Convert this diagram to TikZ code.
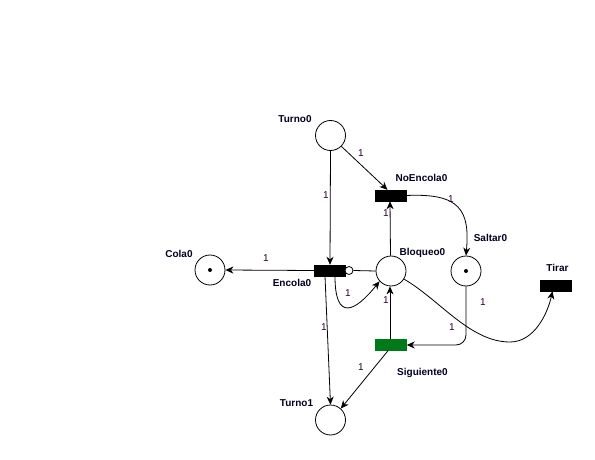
\documentclass[tikz,border=0pt]{standalone}
\usepackage{fontspec}
\setmainfont{Liberation Sans}
\usetikzlibrary{arrows.meta}
\definecolor{lblcol}{RGB}{40,0,45}
\definecolor{namecol}{RGB}{0,0,30}
\definecolor{trgreen}{RGB}{0,122,25}
\tikzset{
  place/.style={draw, circle, minimum size=30pt, inner sep=0pt, line width=0.8pt},
  trans/.style={draw, fill=black, minimum width=31pt, minimum height=11pt, inner sep=0pt},
  gtrans/.style={draw=trgreen, fill=trgreen, minimum width=31pt, minimum height=11pt, inner sep=0pt},
  tok/.style={fill=black, circle, minimum size=4pt, inner sep=0pt},
  pname/.style={font=\fontsize{10}{12}\selectfont\bfseries, text=namecol, inner sep=0pt},
  wlbl/.style={font=\fontsize{10}{12}\selectfont, text=lblcol, inner sep=0pt},
  arc/.style={line width=0.8pt, -{Stealth[length=8pt, width=7pt, inset=2.5pt]}},
  inh/.style={line width=0.8pt},
  inhc/.style={draw, fill=white, circle, minimum size=8pt, inner sep=0pt, line width=0.8pt}
}
\begin{document}
\begin{tikzpicture}[x=1pt, y=-1pt]
\path[use as bounding box, fill=white] (0,0) rectangle (595,460);

% places
\node[place] (Turno0) at (330.5,135.5) {};
\node[place] (Cola0) at (210,270) {};
\node[place] (Bloqueo0) at (391,271) {};
\node[place] (Saltar0) at (466,271) {};
\node[place] (Turno1) at (330.5,420) {};
\node[tok] (tokCola) at (Cola0.center) {};
\node[tok] (tokSaltar) at (Saltar0.center) {};

% transitions
\node[trans] (NoEncola0) at (390.5,195.5) {};
\node[trans] (Encola0) at (330,270.5) {};
\node[trans] (Tirar) at (555.5,285.5) {};
\node[gtrans] (Siguiente0) at (391,345) {};

% inhibitor circle
\node[inhc] (inhE) at (349,270.5) {};

% names
\node[pname] (nTurno0) at (295,119) {Turno0};
\node[pname] (nNoEncola0) at (421.5,178) {NoEncola0};
\node[pname] (nCola0) at (179,254) {Cola0};
\node[pname] (nEncola0) at (292,283) {Encola0};
\node[pname] (nBloqueo0) at (422.5,253) {Bloqueo0};
\node[pname] (nSaltar0) at (490.5,238) {Saltar0};
\node[pname] (nTirar) at (557.5,268) {Tirar};
\node[pname] (nSiguiente0) at (422.5,373) {Siguiente0};
\node[pname] (nTurno1) at (296.5,403) {Turno1};

% arcs
\draw[arc] (Turno0.south) -- (Encola0.north);
\draw[arc] (Turno0.315) -- ([xshift=-3pt]NoEncola0.north);
\draw[arc] ([xshift=-0.5pt]Bloqueo0.north) -- ([xshift=-0.5pt]NoEncola0.south);
\draw[arc] (NoEncola0.east) .. controls (460,193) and (470,210) .. (Saltar0.north);
\draw[arc] (Encola0.west) -- (Cola0.east);
\draw[inh] (Bloqueo0.west) -- (inhE.east);
\draw[arc] ([xshift=5pt]Encola0.south) .. controls (335,322) and (355,312) .. (Bloqueo0.222);
\draw[arc] ([xshift=-5pt]Encola0.south) -- (Turno1.north);
\draw[arc] ([xshift=-1pt]Siguiente0.north) -- ([xshift=-1pt]Bloqueo0.south);
\draw[arc, rounded corners=10pt] (Saltar0.south) |- (Siguiente0.east);
\draw[arc] (Bloqueo0.328) .. controls (440,300) and (470,342) .. (510,342)
  .. controls (535,342) and (548,312) .. ([xshift=-3pt]Tirar.south);
\draw[arc] ([xshift=-3pt]Siguiente0.south) -- (Turno1.48);

% weights
\node[wlbl] (w1) at (361,153) {1};
\node[wlbl] (w2) at (326,195) {1};
\node[wlbl] (w3) at (386,213) {1};
\node[wlbl] (w4) at (451,199) {1};
\node[wlbl] (w5) at (266,258) {1};
\node[wlbl] (w6) at (348,293) {1};
\node[wlbl] (w7) at (386,300) {1};
\node[wlbl] (w8) at (324,327) {1};
\node[wlbl] (w9) at (483,302) {1};
\node[wlbl] (w10) at (452,327) {1};
\node[wlbl] (w11) at (361,367) {1};
\end{tikzpicture}
\end{document}
